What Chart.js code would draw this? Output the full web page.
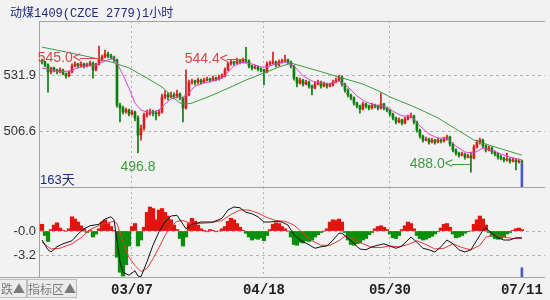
<!DOCTYPE html>
<html>
<head>
<meta charset="utf-8">
<script src="https://cdn.jsdelivr.net/npm/chart.js@4.4.1/dist/chart.umd.min.js"></script>
<style>
  html, body { margin:0; padding:0; width:550px; height:300px; overflow:hidden; background:#f2f2f2; position:relative; }
  #title { position:absolute; left:10px; top:3px; font:12px "Liberation Mono","Noto Sans CJK SC",monospace; color:#1f2a7a; white-space:nowrap; }
  #days { position:absolute; left:40px; top:169px; font:13px "Liberation Sans","Noto Sans CJK SC",sans-serif; color:#1f2a7a; }
  #main { position:absolute; left:0; top:0; }
  #sub { position:absolute; left:0; top:187px; }
  .tab { position:absolute; top:279px; height:17px; line-height:17px; border:1px solid #bdbdbd; background:#ececec; color:#7a7a7a; font:12px "Noto Sans CJK SC",sans-serif; white-space:nowrap; overflow:hidden; }
</style>
</head>
<body>
<canvas id="main" width="550" height="188"></canvas>
<canvas id="sub" width="550" height="112"></canvas>
<div id="title">动煤1409(CZCE 2779)1小时</div>
<div id="days">163天</div>
<div class="tab" style="left:-8px;width:32px;text-align:right;padding-right:1px;">跌▲</div>
<div class="tab" style="left:27px;width:48px;text-align:center;">指标区▲</div>
<script>
// Hourly bars, index 0 = first bar on screen
const opens = [
  538.2,537.8,536.4,533.3,535.1,534.2,533.3,534.2,532.4,531.5,
  533.3,536.0,536.9,536.0,536.9,536.0,536.4,537.3,534.2,536.9,
  538.7,540.0,541.4,540.5,540.0,538.7,518.3,517.0,515.2,516.1,
  514.3,515.2,512.5,504.8,507.9,513.8,514.7,515.2,514.7,514.3,
  515.2,522.0,522.9,522.0,522.9,522.4,523.3,521.5,517.0,522.9,
  528.7,529.2,528.7,529.6,528.7,529.6,530.1,529.6,530.5,530.1,
  531.0,531.5,534.2,536.9,537.8,537.3,538.2,537.8,538.7,538.2,
  536.0,535.1,535.5,534.6,534.2,533.3,536.9,537.3,537.8,536.4,
  537.8,538.2,538.7,537.8,536.0,530.5,528.3,529.6,527.8,528.7,
  526.9,526.0,527.8,528.7,526.9,527.8,526.9,527.4,528.7,529.6,
  531.0,527.8,525.1,522.9,521.5,519.2,517.9,516.5,518.8,517.9,
  517.0,518.3,517.9,517.0,518.8,517.0,516.1,514.3,512.5,510.7,
  511.6,510.2,512.0,512.9,513.4,510.7,507.0,504.3,502.5,503.0,
  501.6,502.5,501.6,502.5,502.1,503.0,503.9,500.7,498.0,496.6,
  495.7,496.2,494.8,495.3,494.4,499.4,501.6,502.5,499.8,498.0,
  498.9,497.1,496.2,494.8,494.4,493.5,493.9,493.0,493.5,492.6,
  493.0
];
const highs = [
  539.1,538.2,536.9,535.5,535.5,534.6,535.1,534.6,532.8,533.7,
  536.9,537.8,537.3,537.8,537.3,537.3,538.2,537.8,537.3,545.0,
  540.9,543.2,542.3,541.4,540.5,539.1,519.2,517.9,517.0,516.5,
  516.1,515.6,513.4,509.3,514.7,516.1,516.5,516.1,515.6,516.1,
  523.3,524.7,523.8,524.2,523.8,525.1,523.8,522.0,534.2,529.6,
  530.1,529.6,530.5,530.1,530.5,531.0,530.5,531.5,531.0,531.9,
  532.4,535.1,537.8,538.7,538.2,539.6,538.7,539.6,544.4,538.7,
  536.4,536.4,536.0,535.1,534.6,537.8,538.2,542.3,538.2,538.7,
  539.1,540.9,539.1,538.2,536.4,531.0,530.5,530.1,529.6,529.2,
  527.4,528.7,529.6,529.2,528.7,528.3,528.3,529.6,530.5,531.9,
  531.5,528.3,525.6,523.3,522.0,519.7,518.3,519.7,519.2,518.3,
  519.2,518.8,518.3,523.8,519.2,517.4,516.5,514.7,512.9,512.5,
  512.0,512.9,513.8,514.7,513.8,511.1,507.5,504.8,503.9,503.4,
  503.4,502.9,503.4,503.0,503.9,504.8,504.3,501.2,498.5,497.1,
  497.1,496.6,496.2,497.1,500.3,502.5,503.4,502.9,500.3,499.8,
  499.4,497.6,496.6,495.7,494.8,496.6,494.4,494.4,493.9,493.9,
  493.5
];
const lows = [
  536.9,535.5,524.2,532.4,533.3,532.4,532.8,531.9,530.5,531.0,
  532.8,535.5,535.1,535.5,535.1,535.5,535.9,530.5,533.7,536.4,
  538.2,539.6,539.6,539.1,537.8,517.4,510.7,514.3,514.7,513.4,
  513.8,511.1,496.8,502.5,507.0,512.9,513.8,513.4,511.6,513.4,
  514.7,521.1,520.6,521.5,521.1,521.5,520.6,510.7,516.5,522.4,
  527.8,527.4,527.8,527.8,528.3,529.2,528.7,529.2,529.2,529.6,
  530.5,531.0,533.7,536.4,536.4,536.9,536.9,537.3,537.3,535.1,
  534.2,534.6,533.7,533.3,527.4,532.8,536.4,536.9,535.5,535.9,
  537.3,537.8,536.9,535.1,529.6,526.5,527.8,526.9,527.4,526.0,
  522.9,525.6,527.4,526.0,526.5,526.0,526.5,526.9,528.3,529.2,
  526.9,524.2,522.0,520.6,518.3,517.0,514.7,516.1,517.0,516.1,
  516.5,517.0,516.1,516.5,516.1,515.2,513.4,511.6,509.8,510.2,
  509.3,509.8,511.6,512.5,509.8,506.1,503.4,501.6,502.1,500.7,
  501.2,500.7,501.2,501.2,501.6,502.5,499.8,497.1,495.7,494.8,
  495.3,493.9,494.4,488.0,494.0,498.9,500.7,498.9,497.1,497.6,
  496.2,495.3,493.9,493.5,492.6,493.0,492.1,492.6,489.0,492.1,
  491.7
];
const closes = [
  537.8,536.4,533.3,535.1,534.2,533.3,534.2,532.4,531.5,533.3,
  536.0,536.9,536.0,536.9,536.0,536.4,537.3,534.2,536.9,538.7,
  540.0,541.4,540.5,540.0,538.7,518.3,517.0,515.2,516.1,514.3,
  515.2,512.5,504.8,507.9,513.8,514.7,515.2,514.7,514.3,515.2,
  522.0,522.9,522.0,522.9,522.4,523.3,521.5,517.0,522.9,528.7,
  529.2,528.7,529.6,528.7,529.6,530.1,529.6,530.5,530.1,531.0,
  531.5,534.2,536.9,537.8,537.3,538.2,537.8,538.7,538.2,536.0,
  535.1,535.5,534.6,534.2,533.3,536.9,537.3,537.8,536.4,537.8,
  538.2,538.7,537.8,536.0,530.5,528.3,529.6,527.8,528.7,526.9,
  526.0,527.8,528.7,526.9,527.8,526.9,527.4,528.7,529.6,531.0,
  527.8,525.1,522.9,521.5,519.2,517.9,516.5,518.8,517.9,517.0,
  518.3,517.9,517.0,518.8,517.0,516.1,514.3,512.5,510.7,511.6,
  510.2,512.0,512.9,513.4,510.7,507.0,504.3,502.5,503.0,501.6,
  502.5,501.6,502.5,502.1,503.0,503.9,500.7,498.0,496.6,495.7,
  496.2,494.8,495.3,494.4,499.4,501.6,502.5,499.8,498.0,498.9,
  497.1,496.2,494.8,494.4,493.5,493.9,493.0,493.5,492.6,493.0,
  492.6
];

// Moving averages (bar index, price)
const maFastIdx = [0,3,6,9,12,15,18,21,24,25,27,29,31,33,35,37,39,41,43,45,47,49,51,54,57,60,62,64,67,70,73,75,78,81,84,87,90,93,96,99,102,105,108,111,114,117,120,123,126,129,132,135,138,141,144,147,150,153,156,160];
const maFastVal = [535.1,534.2,533.3,533.7,535.1,536.0,536.4,538.2,539.6,537.3,531.9,526.0,519.2,516.1,515.2,515.2,516.1,518.8,521.1,522.0,521.5,523.8,526.9,528.3,529.2,530.5,533.3,536.0,537.8,536.9,535.5,535.5,536.9,537.8,536.0,531.5,529.2,528.3,527.8,529.2,526.5,522.4,519.7,518.3,517.9,515.6,513.4,513.4,508.9,505.2,503.4,503.4,499.8,497.1,496.6,498.9,498.0,496.2,494.8,493.5];
const maSlowIdx = [0,8,16,23,29,35,40,44,46,48,50,57,63,68,74,79,83,90,99,107,113,116,125,132,138,144,150,160];
const maSlowVal = [544.5,542.3,540.0,537.8,535.1,530.5,526.5,521.5,519.2,518.8,519.2,522.9,526.5,529.6,532.8,535.5,537.3,534.6,531.0,527.8,524.2,522.0,517.0,512.5,507.5,502.5,499.8,495.7];

// MACD
const macdHist = [
  0.9,-0.6,-1.4,0.2,0.8,1.1,0.4,0.1,0.0,0.3,
  1.9,1.6,1.2,0.7,0.3,-0.2,0.1,-0.8,-0.4,0.3,
  1.2,1.5,1.0,0.6,0.1,-3.5,-5.5,-6.0,-4.5,-2.0,
  0.6,1.0,-2.0,-1.2,0.5,2.5,3.2,3.0,1.5,2.8,
  3.0,2.5,2.0,1.5,0.8,0.2,-1.0,-2.0,-0.8,1.0,
  1.7,1.3,0.8,0.3,0.1,-0.1,0.2,0.1,-0.1,0.0,
  0.3,0.6,1.3,1.7,1.5,1.0,0.5,0.1,-0.3,-0.8,
  -1.2,-1.0,-1.1,-0.9,-1.3,-0.6,0.2,0.9,1.1,1.0,
  0.6,0.3,0.0,-0.8,-1.8,-1.9,-1.5,-1.6,-1.3,-1.4,
  -1.2,-0.8,-0.5,-0.2,0.0,0.3,1.2,1.5,1.4,1.6,
  1.2,-0.2,-1.2,-1.8,-1.9,-1.7,-1.6,-1.2,-1.0,-0.5,
  -0.2,0.3,0.6,0.7,0.5,0.2,-0.4,-0.9,-1.0,-0.6,
  0.2,0.7,1.2,1.0,0.3,-0.6,-1.0,-1.2,-1.1,-0.9,
  -0.7,-0.4,-0.1,0.4,0.9,1.0,0.5,-0.4,-0.9,-0.8,
  -0.6,-0.3,-0.1,0.0,0.9,1.5,2.0,1.6,0.8,-0.2,
  -0.7,-1.0,-1.1,-1.0,-0.8,-0.4,-0.2,0.1,0.3,0.4,
  0.2
];
const difIdx = [0,2,3,5,7,10,12,14,16,19,21,23,24,25,26,27,29,31,32,33,35,37,39,41,43,45,47,48,50,53,57,60,62,64,66,68,70,72,74,76,78,80,82,84,86,88,91,93,95,97,99,100,102,104,106,108,110,112,114,116,118,120,122,123,125,127,129,131,133,135,137,139,141,143,145,147,148,150,152,154,156,158,160];
const difVal = [-1.2,-2.5,-2.8,-2.1,-1.7,-1.3,-0.4,0.3,0.7,0.9,1.6,1.9,1.5,-1.2,-4.1,-5.5,-5.9,-5.3,-6.0,-6.1,-4.1,-1.9,-0.1,1.2,2.0,2.1,0.9,0.3,0.9,1.2,1.2,1.7,2.8,3.2,3.1,2.5,2.3,1.9,1.2,1.2,1.3,1.2,0.8,-0.5,-1.2,-1.6,-2.3,-2.1,-2.0,-1.2,-0.3,-0.3,-0.9,-1.7,-2.4,-2.5,-2.1,-1.9,-1.7,-2.0,-2.3,-2.0,-1.2,-0.8,-1.5,-2.3,-2.5,-2.8,-2.1,-1.2,-1.7,-2.5,-2.8,-2.5,-1.2,0.1,0.4,-0.3,-0.9,-1.2,-1.2,-0.9,-0.9];
const deaIdx = [0,3,6,10,13,16,20,24,25,27,29,31,33,35,37,39,41,43,45,47,49,52,56,60,63,66,69,72,75,78,81,84,87,90,93,96,99,101,104,107,110,113,116,119,122,125,128,131,134,137,140,143,146,148,151,154,157,160];
const deaVal = [-1.5,-2.4,-2.3,-1.7,-0.9,0.2,0.9,1.3,1.0,-1.5,-3.5,-4.6,-5.4,-5.0,-3.7,-2.2,-0.6,0.6,1.3,1.4,1.1,1.0,1.1,1.4,2.2,2.8,2.8,2.4,1.8,1.4,1.3,0.8,-0.3,-1.3,-1.9,-1.9,-1.3,-0.7,-1.0,-1.7,-2.2,-2.2,-2.0,-2.1,-1.8,-1.3,-1.8,-2.4,-2.3,-1.7,-2.2,-2.5,-1.9,-0.8,-0.5,-0.8,-1.0,-1.0];

// Axis ticks
const dateIdx = [30, 74, 116, 160];
const dateLabels = ['03/07', '04/18', '05/30', '07/11'];
const priceTicks = [506.6, 531.9];
const macdTicks = [0, -3.2];
const macdTickLabels = ['-0.0', '-3.2'];

// Visible ranges
const priceRange = [481.3, 556.3];
const macdRange = [-6.13, 5.87];
const barRange = [-1, 167.7];

// Current-bar cursor
const cursorIdx = [160];
const cursorMain = [[481.3, 492.1]];
const cursorSub = [[-6.13, -4.9]];

// Labelled extremes
const extremaMarks = [
  { i: 19, field: 'high', mode: 'arrow' },
  { i: 68, field: 'high', mode: 'arrow' },
  { i: 32, field: 'low', mode: 'below' },
  { i: 143, field: 'low', mode: 'arrow' }
];

const UP = '#d81f1a', DOWN = '#0a7f0a';
const GRID = '#b3b3b3', FRAME = '#a3a3a3';
const pts = (xs, ys) => xs.map((x, k) => ({ x, y: ys[k] }));
const isUp = i => closes[i] >= opens[i];
const noPad = s => { s.paddingTop = 0; s.paddingBottom = 0; s.paddingLeft = 0; s.paddingRight = 0; };

function xAxis(showLabels, height) {
  return {
    type: 'linear', min: barRange[0], max: barRange[1], offset: false,
    afterBuildTicks: s => { s.ticks = dateIdx.map(v => ({ value: v })); },
    afterFit: s => { s.height = height; noPad(s); },
    grid: { color: c => (c.index < dateIdx.length - 1 ? GRID : 'rgba(0,0,0,0)'), drawTicks: false, lineWidth: 1, offset: false },
    border: { display: false, dash: [2, 3] },
    ticks: {
      display: showLabels, padding: 5, maxRotation: 0, minRotation: 0, autoSkip: false,
      color: '#222', font: { family: '"Liberation Mono", monospace', size: 14, weight: 'bold' },
      callback: (v, k) => dateLabels[k]
    }
  };
}
function yAxis(range, ticks, labelFn) {
  return {
    type: 'linear', min: range[0], max: range[1],
    afterBuildTicks: s => { s.ticks = ticks.map(v => ({ value: v })); },
    afterFit: s => { s.width = 39; noPad(s); },
    grid: { color: GRID, drawTicks: false, lineWidth: 1 },
    border: { display: true, color: FRAME, width: 1, dash: [3, 3] },
    ticks: { padding: 3, color: '#333', font: { family: '"Liberation Sans", Arial, sans-serif', size: 13 }, callback: labelFn }
  };
}

const framePlugin = {
  id: 'frame',
  afterDraw(chart, args, opts) {
    const { ctx, chartArea: a } = chart;
    ctx.save();
    ctx.strokeStyle = FRAME; ctx.lineWidth = 1;
    ctx.beginPath();
    if (opts.top) { ctx.moveTo(a.left, a.top + 0.5); ctx.lineTo(a.right, a.top + 0.5); }
    if (opts.bottom) { ctx.moveTo(opts.bottomFrom ?? a.left, a.bottom + 0.5); ctx.lineTo(a.right, a.bottom + 0.5); }
    ctx.stroke();
    ctx.restore();
  }
};

const extremaPlugin = {
  id: 'extrema',
  afterDatasetsDraw(chart) {
    const { ctx, scales: { x, y } } = chart;
    ctx.save();
    ctx.font = '14px "Liberation Sans", Arial, sans-serif';
    ctx.textBaseline = 'middle';
    ctx.lineWidth = 1;
    extremaMarks.forEach(m => {
      const isHigh = m.field === 'high';
      const v = isHigh ? highs[m.i] : lows[m.i];
      const px = x.getPixelForValue(m.i), py = y.getPixelForValue(v);
      const col = isHigh ? '#d94848' : '#3d9c3d';
      ctx.fillStyle = col; ctx.strokeStyle = col;
      const txt = v.toFixed(1);
      if (m.mode === 'below') {
        ctx.textAlign = 'center';
        ctx.fillText(txt, px, py + 14);
      } else {
        const ty = Math.round(isHigh ? py + 12 : py - 8);
        const x0 = px - 18;
        ctx.textAlign = 'right';
        ctx.fillText(txt + '<', x0, ty);
        ctx.beginPath(); ctx.moveTo(x0 - 1, ty + 0.5); ctx.lineTo(px - 1, ty + 0.5); ctx.stroke();
      }
    });
    ctx.restore();
  }
};

const common = {
  responsive: false, animation: false, devicePixelRatio: 1,
  events: [],
  plugins: { legend: { display: false }, tooltip: { enabled: false } }
};

new Chart(document.getElementById('main'), {
  type: 'bar',
  data: {
    datasets: [
      { type: 'line', label: 'MA slow', data: pts(maSlowIdx, maSlowVal), borderColor: '#3f9b3f', borderWidth: 1, pointRadius: 0, tension: 0, order: 1 },
      { type: 'line', label: 'MA fast', data: pts(maFastIdx, maFastVal), borderColor: '#e040d6', borderWidth: 1, pointRadius: 0, tension: 0, order: 0 },
      { label: 'wick', data: highs.map((h, i) => ({ x: i, y: [lows[i], h] })), grouped: false, barThickness: 1,
        backgroundColor: c => isUp(c.dataIndex) ? UP : DOWN, order: 3 },
      { label: 'body', data: opens.map((o, i) => ({ x: i, y: [o, closes[i]] })), grouped: false, barThickness: 2, minBarLength: 1,
        backgroundColor: c => isUp(c.dataIndex) ? UP : DOWN, order: 2 },
      { label: 'cursor', data: cursorIdx.map((x, k) => ({ x, y: cursorMain[k] })), grouped: false, barThickness: 2,
        backgroundColor: '#4a5cc4', order: -1 }
    ]
  },
  options: {
    ...common,
    layout: { padding: { top: 21, right: 5, bottom: 1, left: 0 } },
    scales: { x: xAxis(false, 0), y: yAxis(priceRange, priceTicks, v => v.toFixed(1)) },
    plugins: { ...common.plugins, frame: { top: true, bottom: true } }
  },
  plugins: [framePlugin, extremaPlugin]
});

new Chart(document.getElementById('sub'), {
  type: 'bar',
  data: {
    datasets: [
      { label: 'MACD', data: macdHist.map((v, i) => ({ x: i, y: v })), grouped: false, barThickness: 3.6,
        backgroundColor: c => (macdHist[c.dataIndex] >= 0 ? '#e3140f' : '#0a8f0a'), order: 3 },
      { type: 'line', label: 'DIF', data: pts(difIdx, difVal), borderColor: '#111', borderWidth: 1, pointRadius: 0, tension: 0, order: 0 },
      { type: 'line', label: 'DEA', data: pts(deaIdx, deaVal), borderColor: '#e33a3a', borderWidth: 1, pointRadius: 0, tension: 0, order: 1 },
      { label: 'cursor', data: cursorIdx.map((x, k) => ({ x, y: cursorSub[k] })), grouped: false, barThickness: 2,
        backgroundColor: '#4a5cc4', order: -1 }
    ]
  },
  options: {
    ...common,
    layout: { padding: { top: 0, right: 5, bottom: 1, left: 0 } },
    scales: { x: xAxis(true, 21), y: yAxis(macdRange, macdTicks, (v, k) => macdTickLabels[k]) },
    plugins: { ...common.plugins, frame: { top: false, bottom: true, bottomFrom: 0 } }
  },
  plugins: [framePlugin]
});
</script>
</body>
</html>
